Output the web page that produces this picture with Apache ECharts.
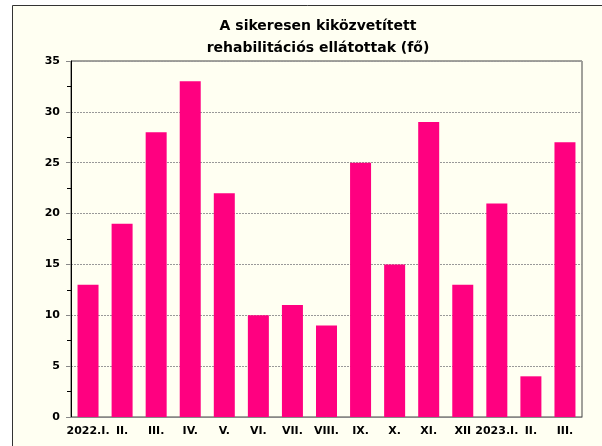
<!DOCTYPE html>
<html>
<head>
<meta charset="utf-8">
<script src="https://cdn.jsdelivr.net/npm/echarts@6/dist/echarts.min.js"></script>
<style>
  html, body { margin: 0; padding: 0; background: #fff; }
  #chart { width: 602px; height: 446px; }
</style>
</head>
<body>
<div id="chart"></div>
<script>
// honapok
const categories = ['2022.I.', 'II.', 'III.', 'IV.', 'V.', 'VI.', 'VII.', 'VIII.', 'IX.', 'X.', 'XI.', 'XII', '2023.I.', 'II.', 'III.']
const values = [13, 19, 28, 33, 22, 10, 11, 9, 25, 15, 29, 13, 21, 4, 27]
const titleLines = ['A sikeresen kiközvetített', 'rehabilitációs ellátottak (fő)']

const font = 'DejaVu Sans, Verdana, sans-serif'
const chart = echarts.init(document.getElementById('chart'))
const option = {
  animation: false,
  backgroundColor: '#fff',
  textStyle: { fontFamily: font },
  graphic: [
    {
      type: 'rect',
      z: -10,
      shape: { x: 12.5, y: 5.5, width: 620, height: 460 },
      style: { fill: '#FFFFF2', stroke: '#333', lineWidth: 1 }
    }
  ],
  title: {
    text: titleLines.join('\n'),
    left: 313,
    textAlign: 'center',
    top: 10,
    textStyle: {
      fontSize: 14,
      fontWeight: 'bold',
      color: '#000',
      lineHeight: 22,
      fontFamily: font
    }
  },
  grid: {
    left: 71,
    top: 61,
    right: 20,
    bottom: 29,
    show: true,
    borderColor: '#444',
    borderWidth: 1,
    backgroundColor: 'transparent'
  },
  xAxis: {
    type: 'category',
    data: categories,
    axisLine: { lineStyle: { color: '#888', width: 1 } },
    axisTick: { show: false },
    axisLabel: {
      interval: 0,
      color: '#000',
      fontSize: 11,
      fontWeight: 'bold',
      margin: 9
    }
  },
  yAxis: {
    type: 'value',
    min: 0,
    max: 35,
    interval: 5,
    axisLine: { show: true, lineStyle: { color: '#000', width: 1 } },
    axisTick: { show: true, length: 5, lineStyle: { color: '#888' } },
    minorTick: { show: true, splitNumber: 2, length: 4, lineStyle: { color: '#000' } },
    axisLabel: { color: '#000', fontSize: 11, fontWeight: 'bold', margin: 11 },
    splitLine: { lineStyle: { color: '#999', type: [2, 1] } }
  },
  series: [
    {
      type: 'bar',
      data: values,
      barWidth: 21,
      itemStyle: { color: '#FF0080' }
    }
  ]
}
chart.setOption(option)
</script>
</body>
</html>
